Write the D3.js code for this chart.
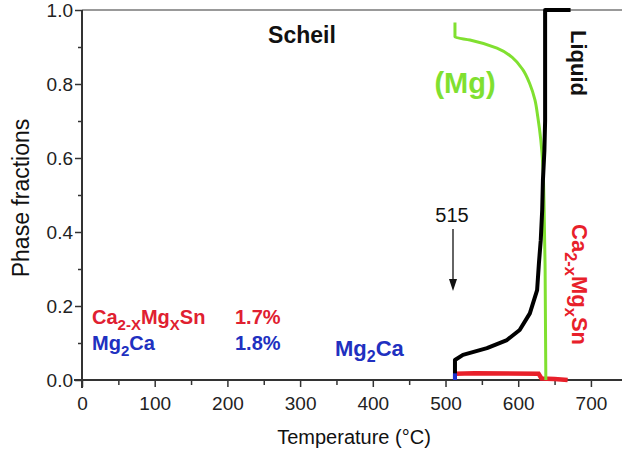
<!DOCTYPE html>
<html><head><meta charset="utf-8">
<script src="https://cdn.jsdelivr.net/npm/d3@7"></script>
<style>body{margin:0;background:#fff}svg{display:block}text{font-family:"Liberation Sans",Arial,sans-serif}</style>
</head><body><svg id="c" width="622" height="450"></svg>
<script>
// Data (Temperature °C, phase fraction)
const liquidT = [672, 637, 637, 636, 634, 633, 631, 628.5, 626, 616, 602, 584.5, 557, 524, 513, 513];
const liquidF = [1.0, 1.0, 0.70, 0.62, 0.54, 0.46, 0.378, 0.316, 0.243, 0.18, 0.135, 0.108, 0.086, 0.068, 0.054, 0.0];
const mgT = [513, 513, 533.6, 570.8, 592.8, 606.5, 616, 623, 627, 631, 634, 635.4, 637, 638];
const mgF = [0.966, 0.927, 0.919, 0.897, 0.87, 0.838, 0.80, 0.757, 0.71, 0.65, 0.576, 0.486, 0.3, 0.0];
const caSnT = [513, 540, 628, 632, 650, 668];
const caSnF = [0.017, 0.018, 0.017, 0.004, 0.003, 0.0];
const mg2caT = [513, 513];
const mg2caF = [0.0, 0.018];
const xTicks = [0, 100, 200, 300, 400, 500, 600, 700];
const xMinor = [50, 150, 250, 350, 450, 550, 650];
const yTicks = [0, 0.2, 0.4, 0.6, 0.8, 1.0];
const yMinor = [0.1, 0.3, 0.5, 0.7, 0.9];

const svg = d3.select("#c");
const x = d3.scaleLinear().domain([0, 740]).range([82, 620]);
const y = d3.scaleLinear().domain([0, 1]).range([380, 10]);
const axisCol = "#333";
const FF = '"Liberation Sans",Arial,sans-serif';

// top border
svg.append("line").attr("x1", x(0)).attr("x2", 622).attr("y1", y(1)).attr("y2", y(1))
  .attr("stroke", "#999").attr("stroke-width", 2);

// X axis
const gx = svg.append("g").attr("transform", `translate(0,${y(0)})`);
gx.call(d3.axisBottom(x).tickValues(xTicks).tickFormat(d3.format("d")).tickSize(7).tickPadding(10));
gx.append("g").call(d3.axisBottom(x).tickValues(xMinor).tickFormat("").tickSize(5));
gx.selectAll(".domain").remove();
gx.append("line").attr("x1", x(0) - 8).attr("x2", 622).attr("stroke", axisCol).attr("stroke-width", 2);
gx.selectAll(".tick line").attr("stroke", axisCol).attr("stroke-width", 1.5);
gx.selectAll(".tick text").attr("font-size", 19).attr("fill", "#222").style("font-family", FF);

// Y axis
const gy = svg.append("g").attr("transform", `translate(${x(0)},0)`);
gy.call(d3.axisLeft(y).tickValues(yTicks).tickFormat(d3.format(".1f")).tickSize(7).tickPadding(2));
gy.append("g").call(d3.axisLeft(y).tickValues(yMinor).tickFormat("").tickSize(4));
gy.selectAll(".domain").remove();
gy.append("line").attr("y1", y(1)).attr("y2", y(0) + 8).attr("stroke", axisCol).attr("stroke-width", 2);
gy.selectAll(".tick line").attr("stroke", axisCol).attr("stroke-width", 1.5);
gy.selectAll(".tick text").attr("font-size", 19).attr("fill", "#222").style("font-family", FF);

// Axis titles
svg.append("text").attr("x", 354).attr("y", 444).attr("text-anchor", "middle")
  .attr("font-size", 20).attr("fill", "#111").text("Temperature (°C)");
svg.append("text").attr("transform", "translate(29,198) rotate(-90)").attr("text-anchor", "middle")
  .attr("font-size", 23).attr("fill", "#111").text("Phase fractions");

const line = d3.line().x(d => x(d[0])).y(d => y(d[1]));
const zip = (a, b) => a.map((v, i) => [v, b[i]]);

svg.append("path").datum(zip(caSnT, caSnF)).attr("d", line).attr("fill", "none")
  .attr("stroke", "#e8202a").attr("stroke-width", 4.5);
svg.append("path").datum(zip(mgT, mgF)).attr("d", line.curve(d3.curveMonotoneY)).attr("fill", "none")
  .attr("stroke", "#80e030").attr("stroke-width", 3);
line.curve(d3.curveLinear);
svg.append("path").datum(zip(liquidT, liquidF)).attr("d", line).attr("fill", "none")
  .attr("stroke", "#000").attr("stroke-width", 4).attr("stroke-linejoin", "round");
svg.append("path").datum(zip(mg2caT, mg2caF)).attr("d", line).attr("fill", "none")
  .attr("stroke", "#2030d0").attr("stroke-width", 4);

// Labels
svg.append("text").attr("x", 302).attr("y", 43).attr("text-anchor", "middle")
  .attr("font-size", 23).attr("font-weight", "bold").attr("fill", "#111").text("Scheil");
svg.append("text").attr("x", 465).attr("y", 93).attr("text-anchor", "middle")
  .attr("font-size", 29).attr("font-weight", "bold").attr("fill", "#80e030").text("(Mg)");
svg.append("text").attr("transform", "translate(571,30) rotate(90)")
  .attr("font-size", 22).attr("font-weight", "bold").attr("fill", "#111").text("Liquid");

function caLabel(sel, sub1, sub2, size) {
  sel.append("tspan").text("Ca");
  sel.append("tspan").attr("font-size", size * 0.75).attr("dy", size * 0.3).text(sub1);
  sel.append("tspan").attr("dy", -size * 0.3).text("Mg");
  sel.append("tspan").attr("font-size", size * 0.75).attr("dy", size * 0.3).text(sub2);
  sel.append("tspan").attr("dy", -size * 0.3).text("Sn");
}
const rc = svg.append("text").attr("transform", "translate(572,224) rotate(90)")
  .attr("font-size", 22).attr("font-weight", "bold").attr("fill", "#e8202a");
caLabel(rc, "2-x", "x", 22);

// 515 annotation
svg.append("text").attr("x", 452).attr("y", 222).attr("text-anchor", "middle")
  .attr("font-size", 20).attr("fill", "#111").text("515");
svg.append("line").attr("x1", 453).attr("x2", 453).attr("y1", 229).attr("y2", 282)
  .attr("stroke", "#111").attr("stroke-width", 1.3);
svg.append("path").attr("d", "M449,279 L457,279 L453,291 Z").attr("fill", "#111");

// Legend-like notes
const l1 = svg.append("text").attr("x", 92).attr("y", 324).attr("font-size", 20)
  .attr("font-weight", "bold").attr("fill", "#e02030");
caLabel(l1, "2-X", "X", 20);
svg.append("text").attr("x", 235).attr("y", 324).attr("font-size", 20)
  .attr("font-weight", "bold").attr("fill", "#e02030").text("1.7%");
const l2 = svg.append("text").attr("x", 92).attr("y", 350).attr("font-size", 20)
  .attr("font-weight", "bold").attr("fill", "#2030c0");
l2.append("tspan").text("Mg");
l2.append("tspan").attr("font-size", 15).attr("dy", 6).text("2");
l2.append("tspan").attr("dy", -6).text("Ca");
svg.append("text").attr("x", 235).attr("y", 350).attr("font-size", 20)
  .attr("font-weight", "bold").attr("fill", "#2030c0").text("1.8%");
const l3 = svg.append("text").attr("x", 335).attr("y", 356).attr("font-size", 22)
  .attr("font-weight", "bold").attr("fill", "#2030c0");
l3.append("tspan").text("Mg");
l3.append("tspan").attr("font-size", 16).attr("dy", 6).text("2");
l3.append("tspan").attr("dy", -6).text("Ca");
</script></body></html>
